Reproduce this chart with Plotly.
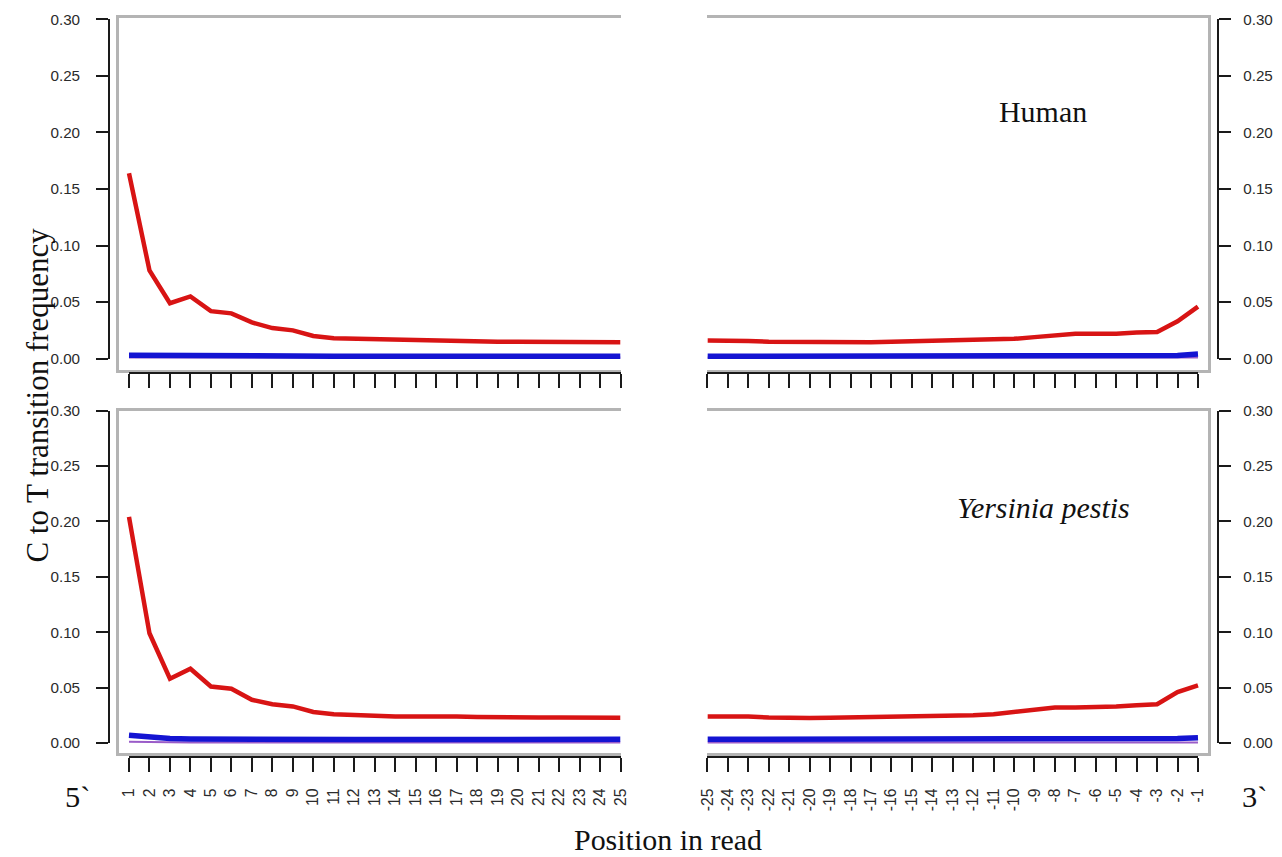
import plotly.graph_objects as go

# ---------------- data ----------------
pos_5p = list(range(1, 26))
pos_3p = list(range(-25, 0))
labels_5p = [str(p) for p in pos_5p]
labels_3p = [str(p) for p in pos_3p]
y_ticks = [0.00, 0.05, 0.10, 0.15, 0.20, 0.25, 0.30]
y_tick_labels = ["0.00", "0.05", "0.10", "0.15", "0.20", "0.25", "0.30"]

# Human, 5' end
human_5p_ct = [0.164, 0.078, 0.049, 0.055, 0.042, 0.040, 0.032, 0.027, 0.025, 0.020,
               0.018, 0.0175, 0.017, 0.0168, 0.0165, 0.0165, 0.016, 0.0155, 0.015, 0.015,
               0.0148, 0.0143, 0.0143, 0.0145, 0.0145]
human_5p_other = [0.003, 0.0028, 0.0027, 0.0025, 0.0023, 0.0022, 0.0021, 0.002, 0.0021, 0.0022,
                  0.0021, 0.002, 0.002, 0.0021, 0.0021, 0.002, 0.002, 0.0021, 0.0021, 0.0022,
                  0.0021, 0.002, 0.002, 0.0021, 0.0021]
human_5p_bg = [0.001] * 25

# Human, 3' end
human_3p_ct = [0.016, 0.016, 0.0155, 0.015, 0.0148, 0.0145, 0.0143, 0.0143, 0.0145, 0.015,
               0.0155, 0.016, 0.016, 0.0165, 0.017, 0.0175, 0.019, 0.021, 0.022, 0.022,
               0.022, 0.023, 0.0235, 0.033, 0.046]
human_3p_other = [0.002, 0.002, 0.002, 0.002, 0.0021, 0.0021, 0.002, 0.002, 0.0021, 0.0021,
                  0.002, 0.002, 0.0021, 0.0021, 0.002, 0.002, 0.0021, 0.0021, 0.002, 0.002,
                  0.0021, 0.002, 0.0022, 0.0028, 0.004]
human_3p_bg = [0.001] * 25

# Yersinia pestis, 5' end
yp_5p_ct = [0.204, 0.099, 0.058, 0.067, 0.051, 0.049, 0.039, 0.035, 0.033, 0.028,
            0.026, 0.025, 0.0245, 0.024, 0.024, 0.0243, 0.024, 0.0235, 0.023, 0.023,
            0.023, 0.023, 0.0228, 0.0228, 0.0228]
yp_5p_other = [0.007, 0.005, 0.004, 0.0037, 0.0035, 0.0034, 0.0034, 0.0033, 0.0033, 0.0033,
               0.0033, 0.0032, 0.0032, 0.0032, 0.0032, 0.0032, 0.0032, 0.0033, 0.0032, 0.0032,
               0.0032, 0.0032, 0.0032, 0.0032, 0.0033]
yp_5p_bg = [0.0012, 0.0008] + [0.0005] * 23

# Yersinia pestis, 3' end
yp_3p_ct = [0.024, 0.0245, 0.024, 0.023, 0.0225, 0.0225, 0.0228, 0.023, 0.023, 0.0232,
            0.0235, 0.024, 0.0245, 0.025, 0.026, 0.028, 0.030, 0.032, 0.032, 0.032,
            0.033, 0.034, 0.035, 0.046, 0.052]
yp_3p_other = [0.0033, 0.0033, 0.0033, 0.0032, 0.0032, 0.0032, 0.0032, 0.0032, 0.0032, 0.0032,
               0.0032, 0.0032, 0.0032, 0.0032, 0.0032, 0.0033, 0.0033, 0.0033, 0.0033, 0.0033,
               0.0033, 0.0033, 0.0034, 0.004, 0.0048]
yp_3p_bg = [0.0005] * 25

# ---------------- layout geometry ----------------
# Target positions are pixels of the final 1282x857 picture; the page is rendered
# with an 8px body margin and the capture is scaled, so convert.
W, H = 1282, 857
BODY = 8
SX = (W + 2 * BODY) / W
SY = (H + 2 * BODY) / H
K = (SX + SY) / 2             # size compensation for fonts / lengths

RED = "#d81414"
BLUE = "#1414d2"
PURPLE = "#9a5cc8"
BOX = "#b4b4b4"
TICKFONT = dict(family="Liberation Sans, Arial, sans-serif", size=15 * K, color="#2b2b2b")
SERIF = "Liberation Serif, Times New Roman, serif"
PAD = "\u00a0" * 3            # gap between left tick labels and their tick marks


def px_x(p):
    return (p * SX - BODY) / W


def px_y(p):
    return 1 - (p * SY - BODY) / H


panels = [
    dict(pos=pos_5p, lab=labels_5p, ct=human_5p_ct, other=human_5p_other, bg=human_5p_bg,
         box_x=(118, 620), tick_x=(128, 620), box_y=(17, 369), val_y=(358, 18.3),
         axis_line_y=372, side="left", bottom=False),
    dict(pos=pos_3p, lab=labels_3p, ct=human_3p_ct, other=human_3p_other, bg=human_3p_bg,
         box_x=(707, 1208), tick_x=(707, 1198), box_y=(17, 369), val_y=(358, 18.3),
         axis_line_y=372, side="right", bottom=False),
    dict(pos=pos_5p, lab=labels_5p, ct=yp_5p_ct, other=yp_5p_other, bg=yp_5p_bg,
         box_x=(118, 620), tick_x=(128, 620), box_y=(410, 753), val_y=(743, 410),
         axis_line_y=757, side="left", bottom=True),
    dict(pos=pos_3p, lab=labels_3p, ct=yp_3p_ct, other=yp_3p_other, bg=yp_3p_bg,
         box_x=(707, 1208), tick_x=(707, 1198), box_y=(410, 753), val_y=(743, 410),
         axis_line_y=757, side="right", bottom=True),
]

fig = go.Figure()
layout = {}

for i, p in enumerate(panels):
    d = i + 1          # data axes
    t = i + 5          # tick axes
    xd, yd = f"x{d if d > 1 else ''}", f"y{d if d > 1 else ''}"
    xt, yt = f"x{t}", f"y{t}"

    x0, x1 = p["pos"][0], p["pos"][-1]
    tx0, tx1 = p["tick_x"]
    ppu_x = (tx1 - tx0) / (x1 - x0)
    bx0, bx1 = p["box_x"]
    xr = [x0 - (tx0 - bx0) / ppu_x, x1 + (bx1 - tx1) / ppu_x]

    v0px, v1px = p["val_y"]
    ppu_y = (v0px - v1px) / (y_ticks[-1] - y_ticks[0])
    by_top, by_bot = p["box_y"]
    yr = [y_ticks[0] - (by_bot - v0px) / ppu_y, y_ticks[-1] + (v1px - by_top) / ppu_y]

    fig.add_trace(go.Scatter(x=p["pos"], y=p["bg"], mode="lines", xaxis=xd, yaxis=yd,
                             line=dict(color=PURPLE, width=2), hoverinfo="skip", showlegend=False))
    fig.add_trace(go.Scatter(x=p["pos"], y=p["other"], mode="lines", xaxis=xd, yaxis=yd,
                             line=dict(color=BLUE, width=5.5), hoverinfo="skip", showlegend=False))
    fig.add_trace(go.Scatter(x=p["pos"], y=p["ct"], mode="lines", xaxis=xd, yaxis=yd,
                             line=dict(color=RED, width=4.5), hoverinfo="skip", showlegend=False))
    # invisible trace binding the tick axes
    fig.add_trace(go.Scatter(x=p["pos"], y=p["ct"], mode="lines", xaxis=xt, yaxis=yt,
                             line=dict(width=0), opacity=0, hoverinfo="skip", showlegend=False))

    layout[f"xaxis{d if d > 1 else ''}"] = dict(
        domain=[px_x(bx0), px_x(bx1)], range=xr, anchor=yd, showline=True, linecolor=BOX,
        linewidth=2.5, mirror=True, showticklabels=False, ticks="", showgrid=False, zeroline=False)
    layout[f"yaxis{d if d > 1 else ''}"] = dict(
        domain=[px_y(by_bot), px_y(by_top)], range=yr, anchor=xd, side=p["side"], showline=True,
        linecolor=BOX, linewidth=2.5, showticklabels=False, ticks="", showgrid=False, zeroline=False)

    layout[f"xaxis{t}"] = dict(
        domain=[px_x(tx0), px_x(tx1)], range=[x0, x1], anchor="free",
        position=px_y(p["axis_line_y"]), side="bottom", showline=True, linecolor="#1a1a1a",
        linewidth=2, ticks="outside", ticklen=14 * K, tickwidth=2, tickcolor="#1a1a1a",
        tickmode="array", tickvals=p["pos"], ticktext=p["lab"],
        showticklabels=p["bottom"], tickangle=-90, tickfont=dict(TICKFONT, size=15.5 * K),
        ticklabelstandoff=10, showgrid=False, zeroline=False)
    if p["side"] == "left":
        yaxis_pos, ylab, ystand = px_x(108), [s + PAD for s in y_tick_labels], 0
    else:
        yaxis_pos, ylab, ystand = px_x(1218), y_tick_labels, 9
    layout[f"yaxis{t}"] = dict(
        domain=[px_y(v0px), px_y(v1px)], range=[y_ticks[0], y_ticks[-1]], anchor="free",
        position=yaxis_pos, side=p["side"], showline=True, linecolor="#1a1a1a", linewidth=2,
        ticks="outside", ticklen=12 * K, tickwidth=2, tickcolor="#1a1a1a",
        tickmode="array", tickvals=y_ticks, ticktext=ylab, tickfont=TICKFONT,
        ticklabelstandoff=ystand, showgrid=False, zeroline=False)


def note(text, x, y, size, angle=0):
    return dict(text=text, x=px_x(x), y=px_y(y), xref="paper", yref="paper",
                xanchor="center", yanchor="middle", showarrow=False, textangle=angle,
                font=dict(family=SERIF, size=size * K, color="#111"))


annotations = [
    note("Human", 1043, 111, 29.5),
    note("<i>Yersinia pestis</i>", 1043, 507, 29.5),
    note("C to T transition frequency", 36, 395, 30.5, -90),
    note("Position in read", 668, 840, 29.5),
    note("5`", 76, 797, 30),
    note("3`", 1255, 797, 30),
]

fig.update_layout(
    width=W, height=H, autosize=False,
    margin=dict(l=0, r=0, t=0, b=0),
    paper_bgcolor="white", plot_bgcolor="rgba(0,0,0,0)",
    showlegend=False, annotations=annotations, **layout)

fig.write_html("out.html")
